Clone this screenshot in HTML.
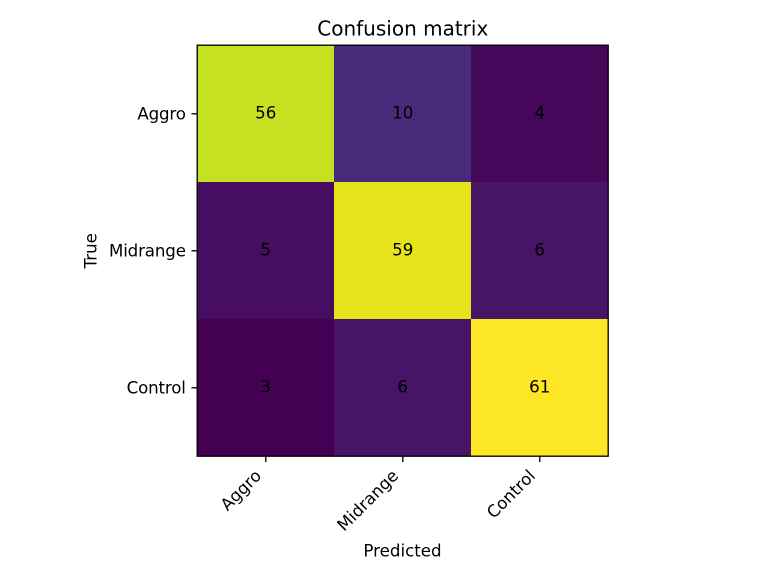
<!DOCTYPE html>
<html>
<head>
<meta charset="utf-8">
<title>Confusion matrix</title>
<style>
html,body{margin:0;padding:0;background:#fff;width:768px;height:576px;overflow:hidden}
svg{display:block}
text{font-family:"DejaVu Sans",sans-serif;fill:#000}
</style>
</head>
<body>
<svg id="chart" xmlns="http://www.w3.org/2000/svg" width="768" height="576" viewBox="0 0 768 576">
<rect width="768" height="576" fill="#fff"/>
<text x="402.8" y="35.6" font-size="20" text-anchor="middle">Confusion matrix</text>
<text x="402.5" y="556.3" font-size="16.67" text-anchor="middle">Predicted</text>
<text transform="translate(96.6,250.8) rotate(-90)" font-size="16.67" text-anchor="middle">True</text>
<g id="cells"></g>
<g id="ticks"></g>
<rect x="197.2" y="45.2" width="411" height="411" fill="none" stroke="#000" stroke-width="1.33"/>
</svg>
<script>
const predictedLabels = ['Aggro', 'Midrange', 'Control'];
const trueLabels = ['Aggro', 'Midrange', 'Control'];
const rowAggro = [56, 10, 4];
const rowMidrange = [5, 59, 6];
const rowControl = [3, 6, 61];
const matrix = [rowAggro, rowMidrange, rowControl];

const NS = 'http://www.w3.org/2000/svg';
const plot = {left: 197, top: 45, size: 411};
const viridis = ['#440154','#471365','#482475','#463480','#414487','#3b528b','#355f8d','#2f6c8e','#2a788e','#25858e','#21918c','#1e9c89','#22a884','#2fb47c','#44bf70','#5ec962','#7ad151','#9bd93c','#bddf26','#dfe318','#fde725'];

function make(tag, attrs, parent, txt) {
  const el = document.createElementNS(NS, tag);
  for (const k in attrs) el.setAttribute(k, attrs[k]);
  if (txt !== undefined) el.textContent = txt;
  parent.appendChild(el);
  return el;
}
function hexToRgb(h) {
  return [1, 3, 5].map(i => parseInt(h.substr(i, 2), 16));
}
function colorFor(t) {
  const c = Math.max(0, Math.min(1, t)) * (viridis.length - 1);
  const i = Math.min(Math.floor(c), viridis.length - 2);
  const a = hexToRgb(viridis[i]), b = hexToRgb(viridis[i + 1]);
  const f = c - i;
  return 'rgb(' + a.map((v, k) => Math.round(v + (b[k] - v) * f)).join(',') + ')';
}
function xScale(col) { return plot.left + col * plot.size / predictedLabels.length; }
function yScale(row) { return plot.top + row * plot.size / trueLabels.length; }

const cells = document.getElementById('cells');
const ticks = document.getElementById('ticks');
const flat = matrix.flat();
const vMin = Math.min(...flat), vMax = Math.max(...flat);
const cw = xScale(1) - xScale(0), ch = yScale(1) - yScale(0);

matrix.forEach((row, r) => {
  row.forEach((v, c) => {
    const rect = make('rect', {
      x: xScale(c), y: yScale(r), width: cw, height: ch,
      fill: colorFor((v - vMin) / (vMax - vMin)),
      'shape-rendering': 'crispEdges'
    }, cells);
    
    
    const label = make('text', {
      x: xScale(c) + cw / 2 + 0.2, y: yScale(r) + ch / 2 + 5,
      'font-size': 16.67, 'text-anchor': 'middle'
    }, cells, String(v));
    
    
  });
});

predictedLabels.forEach((name, c) => {
  const x = xScale(c) + cw / 2 + 0.3;
  const bottom = plot.top + plot.size + 0.3;
  const tick = make('line', {x1: x, x2: x, y1: bottom, y2: bottom + 5.83, stroke: '#000', 'stroke-width': 1.33}, ticks);
  
  
  const label = make('text', {
    transform: 'translate(' + (x - 3.5) + ',' + (bottom + 20.5) + ') rotate(-45)',
    'font-size': 16.67, 'text-anchor': 'end'
  }, ticks, name);
  
  
});

trueLabels.forEach((name, r) => {
  const y = yScale(r) + ch / 2 + 0.3;
  const tick = make('line', {x1: plot.left + 0.3, x2: plot.left + 0.3 - 5.83, y1: y, y2: y, stroke: '#000', 'stroke-width': 1.33}, ticks);
  
  
  const label = make('text', {
    x: plot.left - 11.2, y: y + 5.7,
    'font-size': 16.67, 'letter-spacing': -0.15, 'text-anchor': 'end'
  }, ticks, name);
  
  
});
</script>
</body>
</html>
